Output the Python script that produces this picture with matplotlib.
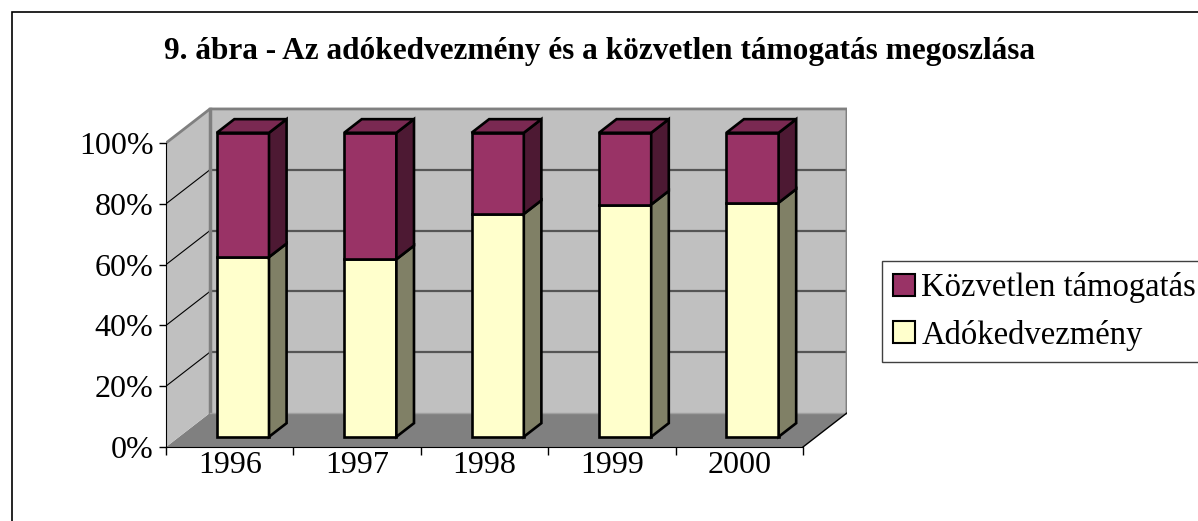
import numpy as np
import matplotlib.pyplot as plt
from matplotlib.patches import Polygon, Rectangle, Patch

plt.rcParams['font.family'] = ['Liberation Serif', 'DejaVu Serif']

# data (share of the two support types, %)
years = ['1996', '1997', '1998', '1999', '2000']
adokedvezmeny = [59.1, 58.4, 73.3, 76.4, 77.0]
kozvetlen = [40.9, 41.6, 26.7, 23.6, 23.0]
yticks = [0, 20, 40, 60, 80, 100]

# colours
c_kozv = '#993366'
c_kozv_side = '#4d1933'
c_kozv_top = '#7a2952'
c_ado = '#ffffcc'
c_ado_side = '#808066'
c_wall = '#c0c0c0'
c_floor = '#808080'

# oblique pseudo-3D: full floor depth in data units
dep_x = 0.345
dep_y = 11.2
bar_w = 0.41
d_front, d_back = 0.3, 0.7
lw_bar = 1.9

fig = plt.figure(figsize=(11.98, 5.21), dpi=100)
n = len(years)
ax = fig.add_axes([166 / 1198, 1 - 447 / 521, (n + dep_x) * 127.4 / 1198, 112 * 3.04 / 521])
ax.set_xlim(-0.5, n - 0.5 + dep_x)
ax.set_ylim(0, 112)
x = np.arange(n)

# walls and floor
x0, x1 = -0.5, n - 0.5
ax.add_patch(Polygon([(x0, 0), (x1, 0), (x1 + dep_x, dep_y), (x0 + dep_x, dep_y)],
                     closed=True, fc=c_floor, ec='none', zorder=1))
ax.plot([x1, x1 + dep_x], [0, dep_y], color='black', lw=1, zorder=2)
ax.add_patch(Polygon([(x0, 0), (x0 + dep_x, dep_y), (x0 + dep_x, 100 + dep_y), (x0, 100)],
                     closed=True, fc=c_wall, ec='none', zorder=1))
ax.add_patch(Rectangle((x0 + dep_x, dep_y), n, 100, fc=c_wall, ec='none', zorder=1))
for v in yticks[1:-1]:
    ax.plot([x0 + dep_x, x1 + dep_x], [v + dep_y, v + dep_y], color='#555555', lw=1.6, zorder=1.5)
    ax.plot([x0, x0 + dep_x], [v, v + dep_y], color='black', lw=0.8, zorder=1.5)
# grey wall edges
ax.plot([x0, x0 + dep_x, x1 + dep_x, x1 + dep_x],
        [100, 100 + dep_y, 100 + dep_y, dep_y], color='#808080', lw=2, zorder=1.6)
ax.plot([x0 + dep_x, x0 + dep_x], [dep_y, 100 + dep_y], color='#808080', lw=2.5, zorder=1.6)
ax.plot([x0 + dep_x, x1 + dep_x], [dep_y, dep_y], color='#a0a0a0', lw=1, zorder=1.6)

# bars
fx = dep_x * d_front
fy = dep_y * d_front
bx = dep_x * (d_back - d_front)
by = dep_y * (d_back - d_front)
ax.bar(x + fx, adokedvezmeny, width=bar_w, bottom=fy, color=c_ado,
       edgecolor='black', lw=lw_bar, zorder=3)
ax.bar(x + fx, kozvetlen, width=bar_w, bottom=np.array(adokedvezmeny) + fy, color=c_kozv,
       edgecolor='black', lw=lw_bar, zorder=3)


def side(xr, lo, hi, col):
    ax.add_patch(Polygon([(xr, lo + fy), (xr + bx, lo + fy + by), (xr + bx, hi + fy + by), (xr, hi + fy)],
                         closed=True, fc=col, ec='black', lw=lw_bar, zorder=3))


for i in range(n):
    xl = x[i] - bar_w / 2 + fx
    xr = x[i] + bar_w / 2 + fx
    a = adokedvezmeny[i]
    top = a + kozvetlen[i]
    side(xr, 0, a, c_ado_side)
    side(xr, a, top, c_kozv_side)
    ax.add_patch(Polygon([(xl, top + fy), (xr, top + fy), (xr + bx, top + fy + by), (xl + bx, top + fy + by)],
                         closed=True, fc=c_kozv_top, ec='black', lw=lw_bar, zorder=3))

# axes
for s in ['top', 'right']:
    ax.spines[s].set_visible(False)
ax.spines['left'].set_bounds(0, 100)
ax.spines['bottom'].set_bounds(x0, x1)
ax.spines['left'].set_zorder(4)
ax.spines['bottom'].set_zorder(4)
ax.set_yticks(yticks)
ax.set_yticklabels([f'{v}%' for v in yticks])
ax.set_xticks(x)
ax.set_xticklabels(years)
ax.set_xticks(np.arange(n + 1) - 0.5, minor=True)
ax.tick_params(axis='x', which='major', length=0, pad=3, labelsize=23)
ax.tick_params(axis='x', which='minor', length=6, width=1, direction='out')
ax.tick_params(axis='y', length=5, width=1, pad=4, labelsize=23)
ax.patch.set_visible(False)

fig.text(0.5, 1 - 51 / 521, '9. ábra - Az adókedvezmény és a közvetlen támogatás megoszlása',
         ha='center', va='center', fontsize=22.5, fontweight='bold')

handles = [Patch(fc=c_kozv, ec='black', lw=1.5), Patch(fc=c_ado, ec='black', lw=1.5)]
leg = fig.legend(handles, ['Közvetlen támogatás', 'Adókedvezmény'], loc='upper left',
                 bbox_to_anchor=(882 / 1198, 1 - 261 / 521, 0.3, 0), mode='expand',
                 fontsize=23.5, fancybox=False,
                 edgecolor='#404040', framealpha=1, handlelength=0.65, handleheight=0.65,
                 handletextpad=0.2, labelspacing=0.5, borderpad=0.35, borderaxespad=0)
leg.get_frame().set_linewidth(1)

# chart-area border
fig.patches.append(Rectangle((12 / 1198, -0.1), 1.2, 1.1 - 12 / 521, transform=fig.transFigure,
                             fill=False, ec='black', lw=1.2))

fig.savefig('out.png', dpi=100)
